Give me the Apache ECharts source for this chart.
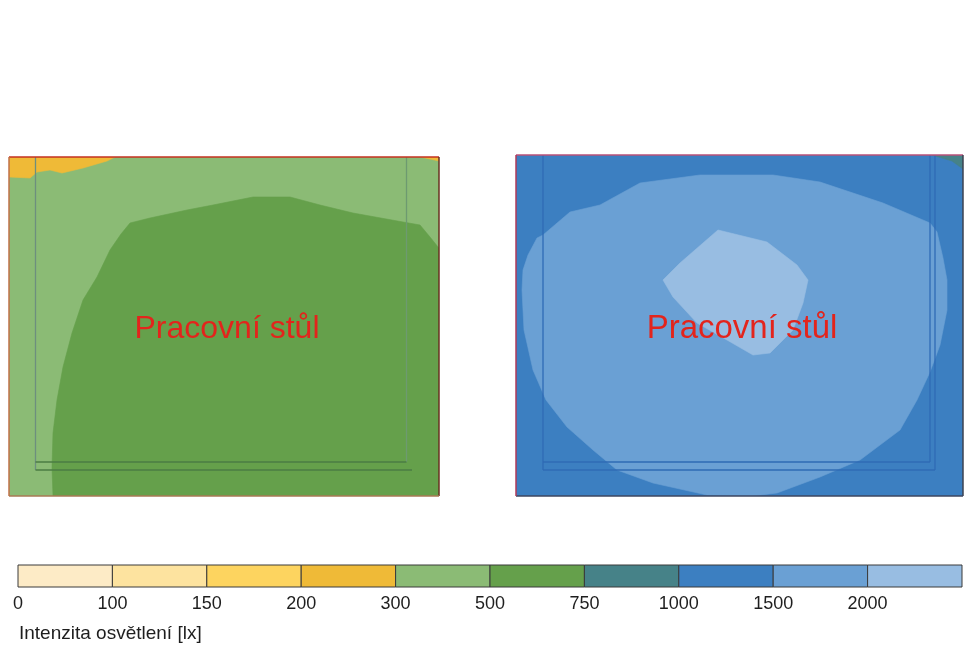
<!DOCTYPE html>
<html>
<head>
<meta charset="utf-8">
<script src="https://cdn.jsdelivr.net/npm/echarts@6/dist/echarts.min.js"></script>
<style>html,body{margin:0;padding:0;background:#fff;}#c{width:966px;height:646px;}</style>
</head>
<body>
<div id="c"></div>
<script>
// ---- illuminance classes (lx) and tick labels ----
const levels = [0, 100, 150, 200, 300, 500, 750, 1000, 1500, 2000];
const tickLabels = ['0', '100', '150', '200', '300', '500', '750', '1000', '1500', '2000', ''];
const axisTitle = 'Intenzita osvětlení [lx]';
const deskLabel = 'Pracovní stůl';

// ---- left room (variant 1): room extent and isolux zones (x to right, y downward) ----
const leftRoom = [[0, 0], [430, 0], [430, 339], [0, 339]];            // 300–500 lx
const leftZone200a = [[0, 0], [106, 0], [104, 1], [98, 4], [74, 11], [53, 16], [41, 13], [28, 15], [21, 21], [0, 20]];
const leftZone200b = [[411, 0], [430, 0], [430, 4], [421, 2]];
const leftZone500 = [[44, 339], [43, 310], [44, 276], [48, 243], [54, 210], [63, 176], [74, 143], [88, 120], [101, 93],
  [112, 77], [121, 66], [141, 61], [178, 53], [204, 48], [244, 40], [281, 40], [311, 48], [344, 56], [394, 65],
  [411, 68], [421, 80], [429, 90], [430, 91], [430, 339]];
const leftDesk = [
  [[26.5, 0], [26.5, 313]], [[397.5, 0], [397.5, 305]],
  [[26.5, 305], [397.5, 305]], [[26.5, 313], [403, 313]]
];
const leftLabelAt = [218, 172];

// ---- right room (variant 2) ----
const rightRoom = [[0, 0], [447, 0], [447, 341], [0, 341]];           // 1000–1500 lx
const rightZone750 = [[416, 0], [447, 0], [447, 14], [436, 6]];
const rightZone1500 = [[12, 100], [21, 83], [27, 80], [54, 57], [84, 50], [124, 28], [184, 20], [257, 20], [304, 27],
  [367, 48], [414, 68], [421, 77], [427, 103], [431, 125], [431, 155], [424, 190], [414, 217], [401, 245], [384, 275],
  [344, 305], [304, 322], [261, 338], [237, 341], [191, 340], [137, 328], [101, 315], [77, 295], [51, 272], [30, 245],
  [17, 215], [8, 175], [6, 135], [7, 115]];
const rightZone2000 = [[202, 75], [251, 87], [281, 110], [292, 125], [287, 148], [277, 175], [254, 198], [237, 200],
  [211, 185], [181, 168], [157, 142], [147, 125], [164, 108], [187, 88]];
const rightDesk = [
  [[27, 0], [27, 315]], [[414, 0], [414, 307]], [[419, 0], [419, 315]],
  [[27, 307], [414, 307]], [[27, 315], [419, 315]]
];
const rightLabelAt = [226, 174];

// ---- styling ----
const levelColors = ['#fdebc6', '#fde39f', '#fdd45f', '#efba37', '#8bbb75', '#65a04b', '#468288', '#3c7fc1', '#6aa0d4', '#98bde2'];
const colorOf = lx => levelColors[levels.indexOf(lx)];
const FONT = '"Liberation Sans", Arial, sans-serif';

const leftLayers = [
  { pts: leftRoom, lx: 300 }, { pts: leftZone200a, lx: 200 }, { pts: leftZone200b, lx: 200 }, { pts: leftZone500, lx: 500 }
];
const rightLayers = [
  { pts: rightRoom, lx: 1000 }, { pts: rightZone750, lx: 750 }, { pts: rightZone1500, lx: 1500 }, { pts: rightZone2000, lx: 2000 }
];

function zoneSeries(gi, layers) {
  return {
    type: 'custom', coordinateSystem: 'cartesian2d', xAxisIndex: gi, yAxisIndex: gi,
    silent: true, animation: false, clip: true,
    data: layers.map(l => [l.pts[0][0], l.pts[0][1], l.lx]),
    renderItem: (params, api) => {
      const l = layers[params.dataIndex];
      return {
        type: 'polygon',
        shape: { points: l.pts.map(p => api.coord(p)) },
        style: { fill: colorOf(l.lx), stroke: colorOf(l.lx), lineWidth: 0.6 }
      };
    }
  };
}
function lineSeries(gi, lines, colors) {
  return {
    type: 'custom', coordinateSystem: 'cartesian2d', xAxisIndex: gi, yAxisIndex: gi,
    silent: true, animation: false, z: 3,
    data: lines.map(l => [l[0][0], l[0][1]]),
    renderItem: (params, api) => {
      const l = lines[params.dataIndex];
      return {
        type: 'polyline',
        shape: { points: l.map(p => api.coord(p)) },
        style: { stroke: colors[params.dataIndex], lineWidth: 1.3, fill: null }
      };
    }
  };
}
function frameSeries(gi, room, sideColors) {
  const sides = [[room[0], room[1]], [room[1], room[2]], [room[2], room[3]], [room[3], room[0]]];
  return {
    type: 'custom', coordinateSystem: 'cartesian2d', xAxisIndex: gi, yAxisIndex: gi,
    silent: true, animation: false, z: 4, clip: false,
    data: sides.map(s => [s[0][0], s[0][1]]),
    renderItem: (params, api) => {
      const s = sides[params.dataIndex];
      return {
        type: 'line',
        shape: { x1: api.coord(s[0])[0], y1: api.coord(s[0])[1], x2: api.coord(s[1])[0], y2: api.coord(s[1])[1] },
        style: { stroke: sideColors[params.dataIndex], lineWidth: 1.5 }
      };
    }
  };
}
function labelSeries(gi, at, size) {
  return {
    type: 'custom', coordinateSystem: 'cartesian2d', xAxisIndex: gi, yAxisIndex: gi,
    silent: true, animation: false, z: 5,
    data: [at],
    renderItem: (params, api) => {
      const c = api.coord(at);
      return {
        type: 'text', x: c[0], y: c[1],
        style: { text: deskLabel, fill: '#e3241c', fontSize: size, fontFamily: FONT, align: 'center', verticalAlign: 'middle' }
      };
    }
  };
}

const hiddenAxis = (min, max, gi, inverse) => ({
  type: 'value', gridIndex: gi, min, max, inverse: !!inverse, show: false,
  splitLine: { show: false }, axisLine: { show: false }, axisTick: { show: false }, axisLabel: { show: false }
});

const option = {
  backgroundColor: '#ffffff',
  animation: false,
  title: {
    text: axisTitle, left: 14, top: 619,
    textStyle: { fontSize: 19, fontWeight: 'normal', color: '#1e1e1e', fontFamily: FONT }
  },
  grid: [
    { left: 9, top: 157, width: 430, height: 339 },
    { left: 516, top: 155, width: 447, height: 341 },
    { left: 18, top: 565, width: 944, height: 22 }
  ],
  xAxis: [
    hiddenAxis(0, 430, 0), hiddenAxis(0, 447, 1),
    {
      type: 'value', gridIndex: 2, min: 0, max: 10, interval: 1,
      axisLine: { show: false }, axisTick: { show: false }, splitLine: { show: false },
      axisLabel: { formatter: v => tickLabels[v], fontSize: 18, color: '#1e1e1e', fontFamily: FONT, margin: 8, showMaxLabel: false }
    }
  ],
  yAxis: [
    hiddenAxis(0, 339, 0, true), hiddenAxis(0, 341, 1, true), hiddenAxis(0, 1, 2)
  ],
  series: [
    zoneSeries(0, leftLayers),
    zoneSeries(1, rightLayers),
    lineSeries(0, leftDesk, ['#6d8f7e', '#6d9a70', '#4b7d43', '#4b7d43']),
    lineSeries(1, rightDesk, ['#2f6bb5', '#2f6bb5', '#2f6bb5', '#2f6bb5', '#2f6bb5']),
    frameSeries(0, leftRoom, ['#c4301f', '#6a3020', '#a87a55', '#c07048']),
    frameSeries(1, rightRoom, ['#b85078', '#3c4250', '#3c4660', '#b03858']),
    labelSeries(0, leftLabelAt, 32),
    labelSeries(1, rightLabelAt, 33),
    {
      type: 'custom', coordinateSystem: 'cartesian2d', xAxisIndex: 2, yAxisIndex: 2,
      silent: true, animation: false, clip: false,
      data: levels.map((lv, i) => [i, 0, lv]),
      renderItem: (params, api) => {
        const i = params.dataIndex;
        const p0 = api.coord([i, 1]);
        const p1 = api.coord([i + 1, 0]);
        return {
          type: 'rect',
          shape: { x: p0[0], y: p0[1], width: p1[0] - p0[0], height: p1[1] - p0[1] },
          style: { fill: colorOf(levels[i]), stroke: '#3a3a3a', lineWidth: 1 }
        };
      }
    }
  ]
};

const chart = echarts.init(document.getElementById('c'), null, { renderer: 'canvas' });
chart.setOption(option);
</script>
</body>
</html>
